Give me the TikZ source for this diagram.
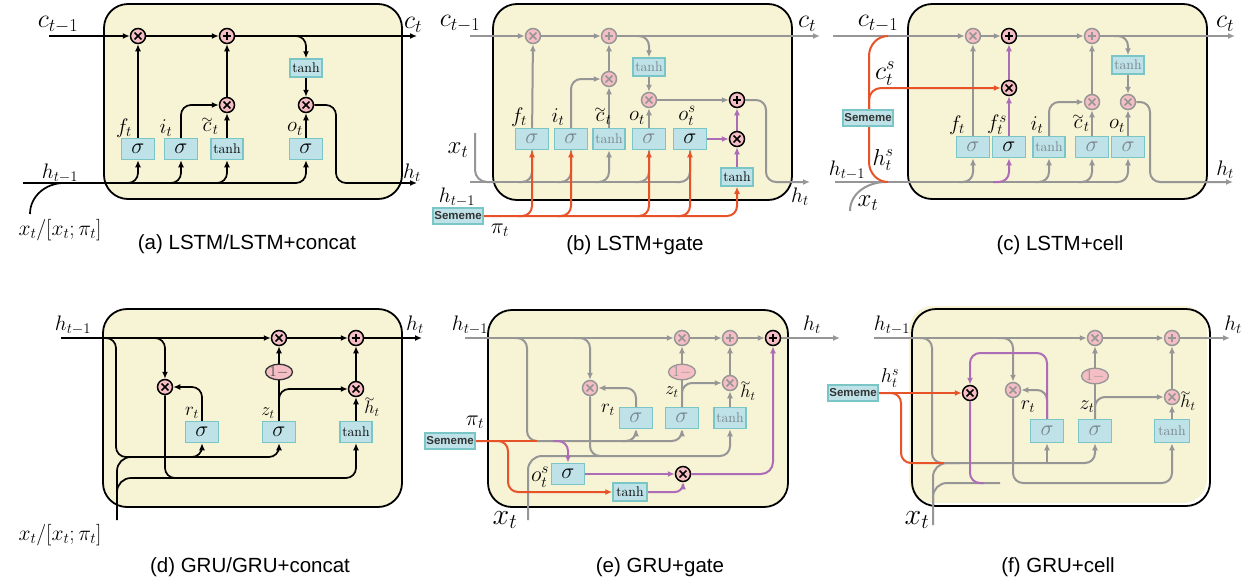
\RequirePackage{fix-cm}
\documentclass[tikz,border=0pt]{standalone}
\usepackage{amsmath}
\usepackage{fontspec}
\setsansfont{Liberation Sans}
\usetikzlibrary{arrows.meta,shapes.geometric}
\definecolor{cellfill}{RGB}{247,243,213}
\definecolor{opfill}{RGB}{245,190,196}
\definecolor{boxfill}{RGB}{190,226,232}
\definecolor{boxdraw}{RGB}{122,198,198}
\definecolor{gline}{RGB}{150,150,150}
\definecolor{gtext}{RGB}{120,130,138}
\definecolor{oline}{RGB}{232,82,40}
\definecolor{pline}{RGB}{172,108,182}
\newcommand{\tlacc}[1]{\mathord{\vbox{\offinterlineskip\halign{\hfil##\hfil\cr$\scriptstyle\sim$\cr\noalign{\kern-1pt}$#1$\cr}}}}
\newcommand{\tlc}{\tlacc{c}}
\newcommand{\tlh}{\tlacc{h}}
\pgfdeclarelayer{back}
\pgfdeclarelayer{lines}
\pgfsetlayers{back,lines,main}
\tikzset{
 cell/.style={draw=black, line width=1.8pt, fill=cellfill, rounded corners=24pt},
 opb/.style={circle, inner sep=0pt, minimum size=15pt, fill=opfill, draw=#1, line width=1.5pt},
 mulop/.style={opb=#1, path picture={\draw[draw=#1, line width=1.6pt] ([shift={(-3.4,-3.4)}]path picture bounding box.center) -- ([shift={(3.4,3.4)}]path picture bounding box.center) ([shift={(-3.4,3.4)}]path picture bounding box.center) -- ([shift={(3.4,-3.4)}]path picture bounding box.center);}},
 plusop/.style={opb=#1, path picture={\draw[draw=#1, line width=1.8pt] ([shift={(-4,0)}]path picture bounding box.center) -- ([shift={(4,0)}]path picture bounding box.center) ([shift={(0,-4)}]path picture bounding box.center) -- ([shift={(0,4)}]path picture bounding box.center);}},
 mk/.style={mulop=black}, mg/.style={mulop=gline},
 pk/.style={plusop=black}, pg/.style={plusop=gline},
 sbox/.style={rectangle, draw=boxdraw, fill=boxfill, line width=1.5pt, minimum width=33pt, minimum height=21pt, inner sep=0pt, font=\fontsize{22}{22}\selectfont},
 tbox/.style={sbox, minimum width=32pt, minimum height=18pt, font=\fontsize{14}{14}\selectfont},
 sem/.style={rectangle, draw=boxdraw, fill=boxfill, line width=1.5pt, inner sep=1.5pt, minimum height=16pt, text=black!80, font=\sffamily\bfseries\fontsize{11.5}{12}\selectfont},
 onem/.style={ellipse, draw=#1, fill=opfill, line width=1.3pt, minimum width=27pt, minimum height=14pt, inner sep=0pt, font=\fontsize{15}{15}\selectfont},
 lab/.style={inner sep=0pt, font=\fontsize{21}{21}\selectfont},
 labL/.style={inner sep=0pt, font=\fontsize{26}{26}\selectfont},
 labM/.style={inner sep=0pt, font=\fontsize{21}{21}\selectfont},
 labS/.style={inner sep=0pt, font=\fontsize{18}{18}\selectfont},
 fs/.style={inner sep=0pt, font=\fontsize{#1}{#1}\selectfont},
 capt/.style={inner sep=0pt, font=\sffamily\fontsize{20.5}{22}\selectfont},
 bl/.style={draw=black, line width=1.7pt},
 gl/.style={draw=gline, line width=2pt},
 ol/.style={draw=oline, line width=2pt},
 pl/.style={draw=pline, line width=2pt},
 ar/.style={-{Latex[length=7pt,width=6pt]}},
 rc/.style={rounded corners=#1}, rc/.default=10pt
}
\begin{document}
\begin{tikzpicture}[x=1pt,y=-1pt]
\useasboundingbox (0,0) rectangle (1249,584);
\begin{pgfonlayer}{back}
\fill[white] (0,0) rectangle (1249,584);
\draw[cell] (104,4) rectangle (402,199);
\draw[cell] (493,4) rectangle (792,200);
\draw[cell] (908,4) rectangle (1207,199);
\draw[cell] (103,309) rectangle (402,507);
\draw[cell] (488,310) rectangle (788,507);
\fill[cellfill, rounded corners=24pt] (909,306) rectangle (1207,503);
\draw[black, line width=1.8pt, rounded corners=24pt] (912,309) rectangle (1210,506);
\end{pgfonlayer}

% ---------------- (a) ----------------
\node[mk] (af) at (138,36) {};
\node[pk] (ap) at (227,36) {};
\node[tbox] (ath) at (306,68) {tanh};
\node[mk] (ami) at (227,105) {};
\node[mk] (amo) at (306,105) {};
\node[sbox] (asf) at (138,149) {$\sigma$};
\node[sbox] (asi) at (181,149) {$\sigma$};
\node[tbox, minimum height=21pt] (atc) at (227,149) {tanh};
\node[sbox] (aso) at (306,149) {$\sigma$};
\coordinate (acin) at (49,36);
\coordinate (acout) at (417,36);
\coordinate (abr) at (294,36);
\coordinate (ahin) at (23,183);
\coordinate (ahout) at (417,183);
\coordinate (ahk) at (336,183);
\coordinate (ab1) at (124,183);
\coordinate (ab2) at (167,183);
\coordinate (ab3) at (213,183);
\coordinate (ab4) at (292,183);
\coordinate (ax) at (30,214);
\coordinate (axj) at (64,183);
\node[labL] (la1) at (58,25) {$c_{t-1}$};
\node[labL] (la2) at (413,25) {$c_t$};
\node[lab] (la3) at (60,173) {$h_{t-1}$};
\node[lab] (la4) at (412,173) {$h_t$};
\node[fs=21.5] (la5) at (60,230) {$x_t/[x_t;\pi_t]$};
\node[labM] (la6) at (124,128) {$f_t$};
\node[labM] (la7) at (166,128) {$i_t$};
\node[labM] (la8) at (210,126) {$\tlc_t$};
\node[labM] (la9) at (295,129) {$o_t$};
\node[capt] (capa) at (247,244) {(a) LSTM/LSTM+concat};
\begin{pgfonlayer}{lines}
\draw[bl, ar, line width=2.3pt] (acin) -- (af);
\draw[bl, ar, line width=2.3pt] (af) -- (ap);
\draw[bl, ar, line width=2.3pt] (ap) -- (acout);
\draw[bl, ar, rc] (abr) -| (ath.north);
\draw[bl, ar] (ath) -- (amo);
\draw[bl, ar] (asf) -- (af);
\draw[bl, ar, rc] (asi.north) |- (ami.west);
\draw[bl, ar] (atc) -- (ami);
\draw[bl, ar, line width=2.3pt] (ami) -- (ap);
\draw[bl, ar] (aso) -- (amo);
\draw[bl, ar, rc] (amo.east) -| (ahk) -- (ahout);
\draw[bl] (ahin) -- (ab4);
\draw[bl, ar, rc] (ab1) -| (asf.south);
\draw[bl, ar, rc] (ab2) -| (asi.south);
\draw[bl, ar, rc] (ab3) -| (atc.south);
\draw[bl, ar, rc] (ab4) -| (aso.south);
\draw[bl] (ax) to[out=90,in=180] (axj);
\end{pgfonlayer}

% ---------------- (b) ----------------
\node[mg] (bf) at (533,36) {};
\node[pg] (bp) at (609,36) {};
\node[tbox, text=gtext] (bth) at (649,67) {tanh};
\node[mg] (bmi) at (609,79) {};
\node[mg] (bmo) at (649,100) {};
\node[pk] (bP) at (737,100) {};
\node[mk] (bM) at (737,139) {};
\node[tbox] (btS) at (737,177) {tanh};
\node[sbox, text=gtext] (bsf) at (532,139) {$\sigma$};
\node[sbox, text=gtext] (bsi) at (571,139) {$\sigma$};
\node[tbox, minimum height=21pt, text=gtext] (btc) at (609,139) {tanh};
\node[sbox, text=gtext] (bso) at (649,139) {$\sigma$};
\node[sbox] (bsos) at (690,139) {$\sigma$};
\node[sem] (bsem) at (458,216) {Sememe};
\coordinate (bcin) at (470,36);
\coordinate (bcout) at (820,36);
\coordinate (bbr) at (637,36);
\coordinate (bhin) at (470,182);
\coordinate (bhe) at (676,182);
\coordinate (bhk) at (766,182);
\coordinate (bhout) at (810,182);
\coordinate (bx) at (475,133);
\coordinate (bxj) at (497,182);
\coordinate (bb1) at (518,182);
\coordinate (bb2) at (557,182);
\coordinate (bb3) at (595,182);
\coordinate (bb4) at (635,182);
\coordinate (bo1) at (518,216);
\coordinate (bo2) at (557,216);
\coordinate (bo4) at (635,216);
\coordinate (bo5) at (676,216);
\node[labL] (lb1) at (460,24) {$c_{t-1}$};
\node[labL] (lb2) at (807,24) {$c_t$};
\node[fs=25] (lb3) at (458,150) {$x_t$};
\node[lab] (lb4) at (457,197) {$h_{t-1}$};
\node[lab] (lb5) at (800,197) {$h_t$};
\node[fs=22] (lb6) at (500,230) {$\pi_t$};
\node[labM] (lb7) at (519,117) {$f_t$};
\node[labM] (lb8) at (558,117) {$i_t$};
\node[labM] (lb9) at (603,116) {$\tlc_t$};
\node[labM] (lb10) at (637,118) {$o_t$};
\node[labM] (lb11) at (687,116) {$o_t^s$};
\node[capt] (capb) at (635,245) {(b) LSTM+gate};
\begin{pgfonlayer}{lines}
\draw[gl, ar] (bcin) -- (bf);
\draw[gl, ar] (bf) -- (bp);
\draw[gl, ar] (bp) -- (bcout);
\draw[gl, ar, rc] (bbr) -| (bth.north);
\draw[gl, ar] (bth) -- (bmo);
\draw[gl, ar] (bsf) -- (bf);
\draw[gl, ar, rc] (bsi.north) |- (bmi.west);
\draw[gl, ar] (btc) -- (bmi);
\draw[gl, ar] (bmi) -- (bp);
\draw[gl, ar] (bso) -- (bmo);
\draw[gl, ar] (bmo) -- (bP);
\draw[gl, ar, rc] (bP.east) -| (bhk) -- (bhout);
\draw[gl] (bhin) -- (bhe);
\draw[gl, rc=12pt] (bx) |- (bxj);
\draw[gl, rc] (bb1) -| (bsf.south);
\draw[gl, rc] (bb2) -| (bsi.south);
\draw[gl, ar, rc] (bb3) -| (btc.south);
\draw[gl, rc] (bb4) -| (bso.south);
\draw[gl, rc] (bhe) -| (bsos.south);
\draw[ol, ar, rc] (bsem.east) -| (btS.south);
\draw[ol, ar, rc] (bo1) -| (bsf.south);
\draw[ol, ar, rc] (bo2) -| (bsi.south);
\draw[ol, ar, rc] (bo4) -| (bso.south);
\draw[ol, ar, rc] (bo5) -| (bsos.south);
\draw[pl, ar] (bsos) -- (bM);
\draw[pl, ar] (btS) -- (bM);
\draw[pl, ar] (bM) -- (bP);
\end{pgfonlayer}

% ---------------- (c) ----------------
\node[mg] (cf) at (973,36) {};
\node[pk] (cP) at (1009,36) {};
\node[pg] (cp) at (1092,36) {};
\node[mk] (cM) at (1009,88) {};
\node[tbox, text=gtext] (cth) at (1128,65) {tanh};
\node[mg] (cmi) at (1092,102) {};
\node[mg] (cmo) at (1128,102) {};
\node[sbox, text=gtext] (csf) at (973,147) {$\sigma$};
\node[sbox] (csfs) at (1009,147) {$\sigma$};
\node[tbox, minimum height=21pt, text=gtext] (cti) at (1049,147) {tanh};
\node[sbox, text=gtext] (csc) at (1092,147) {$\sigma$};
\node[sbox, text=gtext] (cso) at (1128,147) {$\sigma$};
\node[sem] (csem) at (868,118) {Sememe};
\coordinate (ccin) at (833,36);
\coordinate (ccout) at (1235,36);
\coordinate (cbr) at (1114,36);
\coordinate (chin) at (835,182);
\coordinate (che) at (1114,182);
\coordinate (chk) at (1150,182);
\coordinate (chout) at (1233,182);
\coordinate (cot) at (888,36);
\coordinate (cob) at (888,182);
\coordinate (cob2) at (869,112);
\coordinate (cx) at (850,211);
\coordinate (cxj) at (886,182);
\coordinate (cb1) at (959,182);
\coordinate (cb3) at (1035,182);
\coordinate (cb4) at (1078,182);
\coordinate (cpb) at (993,182);
\node[labL] (lc1) at (878,24) {$c_{t-1}$};
\node[labL] (lc2) at (1225,24) {$c_t$};
\node[labL] (lc3) at (885,74) {$c_t^s$};
\node[fs=23] (lc4) at (883,160) {$h_t^s$};
\node[lab] (lc5) at (847,170) {$h_{t-1}$};
\node[fs=25] (lc6) at (868,203) {$x_t$};
\node[lab] (lc7) at (1225,170) {$h_t$};
\node[labM] (lc8) at (957,125) {$f_t$};
\node[labM] (lc9) at (997,125) {$f_t^s$};
\node[labM] (lc10) at (1037,125) {$i_t$};
\node[labM] (lc11) at (1081,123) {$\tlc_t$};
\node[labM] (lc12) at (1117,126) {$o_t$};
\node[capt] (capc) at (1060,245) {(c) LSTM+cell};
\begin{pgfonlayer}{lines}
\draw[gl, ar] (ccin) -- (cf);
\draw[gl, ar] (cf) -- (cP);
\draw[gl, ar] (cP) -- (cp);
\draw[gl, ar] (cp) -- (ccout);
\draw[gl, ar, rc] (cbr) -| (cth.north);
\draw[gl, ar] (cth) -- (cmo);
\draw[gl, ar] (csf) -- (cf);
\draw[gl, ar, rc] (cti.north) |- (cmi.west);
\draw[gl, ar] (csc) -- (cmi);
\draw[gl, ar] (cmi) -- (cp);
\draw[gl, ar] (cso) -- (cmo);
\draw[gl, ar, rc] (cmo.east) -| (chk) -- (chout);
\draw[gl] (chin) -- (che);
\draw[gl] (cx) to[out=90,in=180] (cxj);
\draw[gl, ar, rc] (cb1) -| (csf.south);
\draw[gl, ar, rc] (cb3) -| (cti.south);
\draw[gl, ar, rc] (cb4) -| (csc.south);
\draw[gl, ar, rc] (che) -| (cso.south);
\draw[ol] (cot) to[out=180,in=90] (869,56) -- (869,162) to[out=-90,in=180] (cob);
\draw[ol, ar, rc=12pt] (cob2) |- (cM.west);
\draw[pl, ar, rc] (cpb) -| (csfs.south);
\draw[pl, ar] (csfs) -- (cM);
\draw[pl, ar] (cM) -- (cP);
\end{pgfonlayer}

% ---------------- (d) ----------------
\node[mk] (dmz) at (279,338) {};
\node[pk] (dp) at (356,338) {};
\node[mk] (dmr) at (165,387) {};
\node[onem=black!80, text=black!70] (d1m) at (279,372) {$1-$};
\node[mk] (dmh) at (356,389) {};
\node[sbox] (dsr) at (202,432) {$\sigma$};
\node[sbox] (dsz) at (279,432) {$\sigma$};
\node[tbox, minimum height=21pt] (dth) at (356,432) {tanh};
\coordinate (dhin) at (61,338);
\coordinate (dhout) at (422,338);
\coordinate (dh1) at (103,338);
\coordinate (dv1) at (116,457);
\coordinate (dr1) at (188,457);
\coordinate (dh2) at (150,338);
\coordinate (dlow) at (356,478);
\coordinate (dx) at (117,520);
\coordinate (dxa) at (142,457);
\coordinate (dxv) at (117,503);
\coordinate (dxb) at (175,478);
\node[lab] (ld1) at (73,325) {$h_{t-1}$};
\node[lab] (ld2) at (415,325) {$h_t$};
\node[fs=19] (ld3) at (192,413) {$r_t$};
\node[labS] (ld4) at (268,413) {$z_t$};
\node[labS] (ld5) at (372,407) {$\tlh_t$};
\node[fs=21.5] (ld6) at (60,535) {$x_t/[x_t;\pi_t]$};
\node[capt] (capd) at (250,567) {(d) GRU/GRU+concat};
\begin{pgfonlayer}{lines}
\draw[bl, ar, line width=2.3pt] (dhin) -- (dmz);
\draw[bl, ar, line width=2.3pt] (dmz) -- (dp);
\draw[bl, ar, line width=2.3pt] (dp) -- (dhout);
\draw[bl, ar, rc] (dh1) -| (dv1) -| (dsz.south);
\draw[bl, ar, rc] (dr1) -| (dsr.south);
\draw[bl, ar, rc] (dh2) -| (dmr.north);
\draw[bl, ar, rc] (dmr.south) |- (dlow) -- (dth.south);
\draw[bl, rc=14pt] (dx) |- (dxa);
\draw[bl, rc=14pt] (dxv) |- (dxb);
\draw[bl, ar, rc] (dsr.north) |- (dmr.east);
\draw[bl] (dsz) -- (d1m);
\draw[bl, ar] (d1m) -- (dmz);
\draw[bl, ar, rc] (dsz.north) |- (dmh.west);
\draw[bl, ar] (dth) -- (dmh);
\draw[bl, ar, line width=2.3pt] (dmh) -- (dp);
\end{pgfonlayer}

% ---------------- (e) ----------------
\node[mg] (emz) at (682,338) {};
\node[pg] (ep) at (730,338) {};
\node[pk] (eP) at (773,338) {};
\node[onem=gline, text=gline] (e1m) at (682,372) {$1-$};
\node[mg] (emr) at (590,388) {};
\node[mg] (emh) at (730,383) {};
\node[sbox, text=gtext] (esr) at (636,418) {$\sigma$};
\node[sbox, text=gtext] (esz) at (682,418) {$\sigma$};
\node[tbox, minimum height=21pt, text=gtext] (eth) at (730,418) {tanh};
\node[sbox] (eso) at (568,474) {$\sigma$};
\node[mk] (eM) at (683,474) {};
\node[tbox, minimum width=34pt] (etS) at (630,492) {tanh};
\node[sem] (esem) at (450,441) {Sememe};
\coordinate (ehin) at (465,338);
\coordinate (ehout) at (840,338);
\coordinate (eh1) at (515,338);
\coordinate (ev1) at (527,441);
\coordinate (er1) at (622,441);
\coordinate (eh2) at (575,338);
\coordinate (elow) at (730,456);
\coordinate (ex) at (528,520);
\coordinate (exa) at (600,456);
\coordinate (eoe) at (537,441);
\coordinate (eo1) at (508,470);
\coordinate (ep1) at (553,441);
\node[lab] (le1) at (470,325) {$h_{t-1}$};
\node[lab] (le2) at (812,325) {$h_t$};
\node[fs=22] (le3) at (475,422) {$\pi_t$};
\node[labS] (le4) at (672,392) {$z_t$};
\node[fs=19] (le5) at (608,410) {$r_t$};
\node[labS] (le6) at (748,391) {$\tlh_t$};
\node[fs=22] (le7) at (540,477) {$o_t^s$};
\node[fs=30] (le8) at (505,520) {$x_t$};
\node[capt] (cape) at (660,567) {(e) GRU+gate};
\begin{pgfonlayer}{lines}
\draw[gl, ar] (ehin) -- (emz);
\draw[gl, ar] (emz) -- (ep);
\draw[gl, ar] (ep) -- (eP);
\draw[gl, ar] (eP) -- (ehout);
\draw[gl, ar, rc] (eh1) -| (ev1) -| (esz.south);
\draw[gl, ar, rc] (er1) -| (esr.south);
\draw[gl, ar, rc] (eh2) -| (emr.north);
\draw[gl, ar, rc] (emr.south) |- (elow) -- (eth.south);
\draw[gl, rc=14pt] (ex) |- (exa);
\draw[gl, ar, rc] (esr.north) |- (emr.east);
\draw[gl] (esz) -- (e1m);
\draw[gl, ar] (e1m) -- (emz);
\draw[gl, ar, rc] (esz.north) |- (emh.west);
\draw[gl, ar] (eth) -- (emh);
\draw[gl, ar] (emh) -- (ep);
\draw[ol] (esem.east) -- (eoe);
\draw[ol, ar, rc] (esem.east) -| (eo1) |- (etS.west);
\draw[pl, ar, rc] (ep1) -| (eso.north);
\draw[pl, ar] (eso) -- (eM);
\draw[pl, ar, rc=8pt] (etS.east) -| (eM.south);
\draw[pl, ar, rc=12pt] (eM.east) -| (eP.south);
\end{pgfonlayer}

% ---------------- (f) ----------------
\node[mg] (fmz) at (1095,338) {};
\node[pg] (fp) at (1172,338) {};
\node[onem=gline, text=gline] (f1m) at (1095,376) {$1-$};
\node[mk] (fM) at (970,393) {};
\node[mg] (fmr) at (1013,390) {};
\node[mg] (fmh) at (1172,397) {};
\node[sbox, text=gtext, minimum height=23pt] (fsr) at (1047,431) {$\sigma$};
\node[sbox, text=gtext, minimum height=23pt] (fsz) at (1095,431) {$\sigma$};
\node[tbox, minimum height=23pt, minimum width=35pt, text=gtext] (fth) at (1172,431) {tanh};
\node[sem] (fsem) at (853,393) {Sememe};
\coordinate (fhin) at (874,338);
\coordinate (fhout) at (1230,338);
\coordinate (fh1) at (920,338);
\coordinate (fv1) at (932,463);
\coordinate (fr1) at (1047,463);
\coordinate (fh2) at (998,338);
\coordinate (flow) at (1172,483);
\coordinate (fx) at (933,525);
\coordinate (fxa) at (960,463);
\coordinate (fxv) at (933,505);
\coordinate (fxb) at (1000,483);
\coordinate (fo1) at (901,440);
\coordinate (foe) at (944,463);
\coordinate (fpc) at (970,353);
\coordinate (fpe) at (984,483);
\node[lab] (lf1) at (892,325) {$h_{t-1}$};
\node[lab] (lf2) at (1233,325) {$h_t$};
\node[fs=20] (lf3) at (890,378) {$h_t^s$};
\node[fs=20] (lf4) at (1028,407) {$r_t$};
\node[fs=20] (lf5) at (1087,407) {$z_t$};
\node[labS] (lf6) at (1188,401) {$\tlh_t$};
\node[fs=30] (lf7) at (917,520) {$x_t$};
\node[capt] (capf) at (1058,567) {(f) GRU+cell};
\begin{pgfonlayer}{lines}
\draw[gl, ar] (fhin) -- (fmz);
\draw[gl, ar] (fmz) -- (fp);
\draw[gl, ar] (fp) -- (fhout);
\draw[gl, ar, rc] (fh1) -| (fv1) -| (fsz.south);
\draw[gl, ar] (fr1) -- (fsr.south);
\draw[gl, ar, rc] (fh2) -| (fmr.north);
\draw[gl, ar, rc] (fmr.south) |- (flow) -- (fth.south);
\draw[gl, rc=14pt] (fx) |- (fxa);
\draw[gl, rc=14pt] (fxv) |- (fxb);
\draw[gl, ar, rc] (fsr.north) |- (fmr.east);
\draw[gl] (fsz) -- (f1m);
\draw[gl, ar] (f1m) -- (fmz);
\draw[gl, ar, rc] (fsz.north) |- (fmh.west);
\draw[gl, ar] (fth) -- (fmh);
\draw[gl, ar] (fmh) -- (fp);
\draw[ol, ar] (fsem) -- (fM);
\draw[ol, rc] (fsem.east) -| (fo1) |- (foe);
\draw[pl, ar, rc] (fsr.north) |- (fpc) -- (fM.north);
\draw[pl, rc] (fM.south) |- (fpe);
\end{pgfonlayer}
\end{tikzpicture}
\end{document}
